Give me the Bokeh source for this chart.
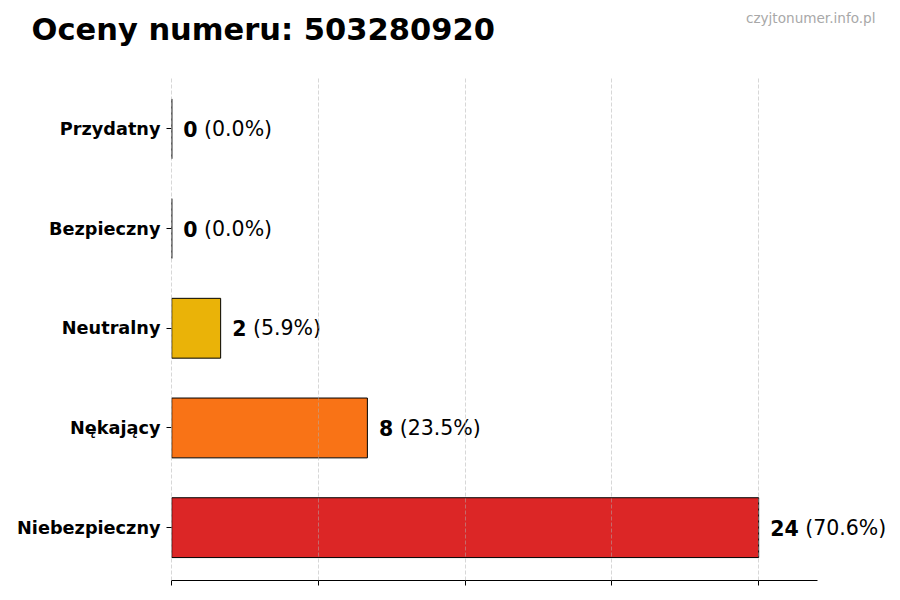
from bokeh.plotting import figure
from bokeh.layouts import column
from bokeh.models import Range1d, FixedTicker, ColumnDataSource
from bokeh.core.properties import value
from bokeh.embed import file_html
from bokeh.resources import INLINE

categories = ["Niebezpieczny", "Nękający", "Neutralny", "Bezpieczny", "Przydatny"]
counts = [24, 8, 2, 0, 0]
colors = ["#dc2626", "#f97316", "#eab308", "#22c55e", "#16a34a"]
total = sum(counts)
title_text = "Oceny numeru: 503280920"
watermark = "czyjtonumer.info.pl"
grid_ticks = [0, 6, 12, 18, 24]

FONT = "DejaVu Sans"
VAL_SIZE = 20.5
pos = list(range(len(categories)))
num_txt = [str(c) for c in counts]
pct_txt = ["(%.1f%%)" % (100.0 * c / total) for c in counts]
num_off = [11.5] * len(counts)
pct_off = [11.5 + len(s) * 0.696 * VAL_SIZE + 0.318 * VAL_SIZE for s in num_txt]

# ---- header (title + watermark), in pixel coordinates of the header strip
W = 900
HEAD_H = 76
head = figure(width=W, height=HEAD_H, output_backend="svg", toolbar_location=None,
              x_range=Range1d(0, W), y_range=Range1d(HEAD_H, 0),
              min_border=0)
head.frame_align = False
head.axis.visible = False
head.grid.visible = False
head.outline_line_color = None
head.text(x=[31], y=[29], text=[title_text], text_font=value(FONT),
          text_font_style="bold", text_font_size="30.5px", text_color="black",
          text_align="left", text_baseline="alphabetic")
head.text(x=[875], y=[17.5], text=[watermark], text_font=value(FONT),
          text_font_size="13.6px", text_color="#a8a8a8",
          text_align="right", text_baseline="alphabetic")

# ---- main chart
src = ColumnDataSource(dict(y=pos, right=counts, color=colors, num=num_txt,
                            pct=pct_txt, noff=num_off, poff=pct_off))

x_max = max(counts) * 1.1
p = figure(width=W, height=524, output_backend="svg", toolbar_location=None,
           x_range=Range1d(-0.01, 29.8), y_range=Range1d(-0.53, 4.525),
           min_border_left=171, min_border_right=0, min_border_top=0,
           min_border_bottom=20)
p.frame_align = False
p.outline_line_color = None

p.hbar(y="y", left=0, right="right", height=0.6, fill_color="color",
       line_color="black", line_width=1, source=src)

p.text(x="right", y="y", text="num", x_offset="noff", source=src,
       text_font=value(FONT), text_font_style="bold",
       text_font_size=f"{VAL_SIZE}px", text_baseline="middle", text_align="left",
       text_color="black")
p.text(x="right", y="y", text="pct", x_offset="poff", source=src,
       text_font=value(FONT), text_font_size=f"{VAL_SIZE}px",
       text_baseline="middle", text_align="left", text_color="black")

p.xaxis.ticker = FixedTicker(ticks=grid_ticks)
p.xaxis.bounds = (0, x_max)
p.xaxis.major_label_overrides = {t: "" for t in grid_ticks}
p.xaxis.major_label_standoff = 0
p.xaxis.major_tick_out = 5
p.xaxis.major_tick_in = 0
p.xaxis.minor_tick_line_color = None
p.xaxis.axis_line_color = "black"

p.yaxis.ticker = FixedTicker(ticks=pos)
p.yaxis.major_label_overrides = {i: c for i, c in zip(pos, categories)}
p.yaxis.major_label_text_font = FONT
p.yaxis.major_label_text_font_style = "bold"
p.yaxis.major_label_text_font_size = "17.7px"
p.yaxis.major_label_text_color = "black"
p.yaxis.major_label_standoff = 6
p.yaxis.axis_line_color = None
p.yaxis.major_tick_out = 5
p.yaxis.major_tick_in = 0
p.yaxis.minor_tick_line_color = None

p.xgrid.ticker = FixedTicker(ticks=grid_ticks)
p.xgrid.grid_line_dash = "4 2"
p.xgrid.grid_line_color = "#b0b0b0"
p.xgrid.grid_line_alpha = 0.5
p.xgrid.level = "overlay"
p.ygrid.grid_line_color = None

layout = column(head, p, spacing=0)
open("out.html", "w").write(file_html(layout, INLINE))
